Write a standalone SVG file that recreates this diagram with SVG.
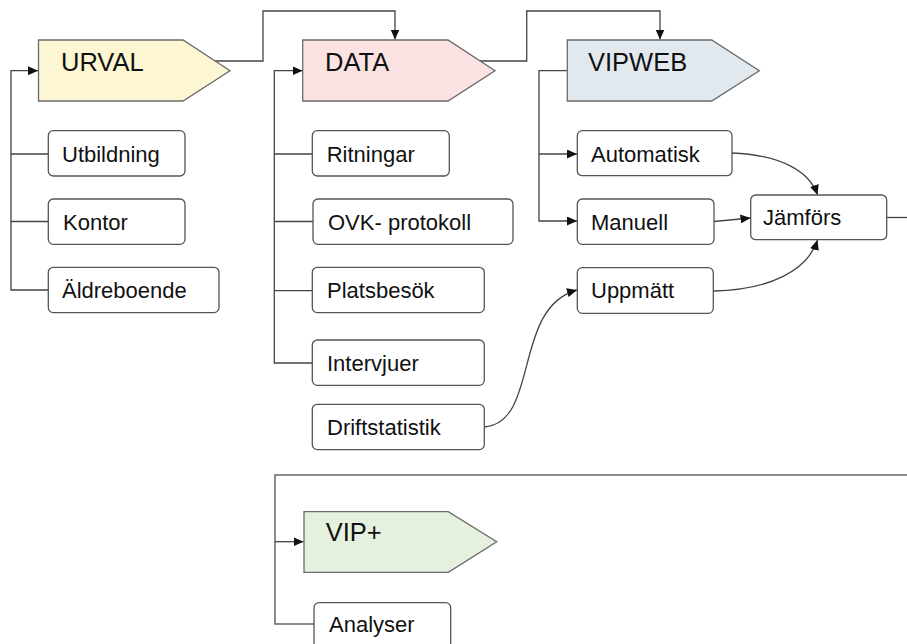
<svg xmlns="http://www.w3.org/2000/svg" width="907" height="644" viewBox="0 0 907 644">
<defs>
<marker id="ah" markerUnits="userSpaceOnUse" markerWidth="11" markerHeight="9" refX="10" refY="4.5" orient="auto">
<path d="M0,0 L10,4.5 L0,9 Z" fill="#111"/>
</marker>
<style>
.hdr{stroke:#6b6b6b;stroke-width:1.3}
.box{fill:#fff;stroke:#555;stroke-width:1.3}
.t{font-family:"Liberation Sans",Arial,sans-serif;font-size:22px;fill:#111}
.h{font-family:"Liberation Sans",Arial,sans-serif;font-size:25.5px;fill:#111}
.c{fill:none;stroke:#444;stroke-width:1.3}
.a{marker-end:url(#ah)}
</style>
</defs>
<rect width="907" height="644" fill="#fff"/>
<g id="connectors">
<path class="c a" d="M214,61 H263 V11 H395 V39.5"/>
<path class="c a" d="M478,61 H526.7 V11 H660 V39.5"/>
<path class="c a" d="M48,290 H11 V70.7 H38"/>
<path class="c" d="M11,154 H48 M11,221.5 H48"/>
<path class="c a" d="M312,363 H274.3 V70.7 H302.5"/>
<path class="c" d="M274.3,154 H312 M274.3,221.5 H313 M274.3,290.7 H312"/>
<path class="c a" d="M567.3,70.7 H539 V221 H577"/>
<path class="c a" d="M539,154 H577"/>
<path class="c a" d="M732,153 C782,155 810,172 817.5,195"/>
<path class="c a" d="M714,221.5 L750.5,218"/>
<path class="c a" d="M713.5,291 C770,290 808,270 817.5,240"/>
<path class="c a" d="M484.5,427 C540,422 512,308 577,290"/>
<path class="c" d="M886.7,217.5 H912"/>
<path class="c" style="stroke:#666;stroke-width:1.5" d="M912,475 H275 V624 H314"/>
<path class="c a" d="M275,541.7 H303.5"/>
</g>
<g id="urval">
<path class="hdr" fill="#FCF6D2" d="M38.5,40 H183 L230,70.7 L183,101 H38.5 Z"/>
<text class="h" x="61" y="71">URVAL</text>
</g>
<g id="data">
<path class="hdr" fill="#FCE3E3" d="M302.7,40 H448 L495,70.7 L448,101 H302.7 Z"/>
<text class="h" x="325" y="71">DATA</text>
</g>
<g id="vipweb">
<path class="hdr" fill="#E1E8EE" d="M567.3,40 H711.7 L759.3,70.7 L711.7,101 H567.3 Z"/>
<text class="h" x="588" y="71">VIPWEB</text>
</g>
<g id="vipplus">
<path class="hdr" fill="#E6F0DF" d="M304,511.7 H448.3 L496.7,541.7 L448.3,572.3 H304 Z"/>
<text class="h" x="325.7" y="541">VIP+</text>
</g>
<g id="utbildning"><rect class="box" x="48.3" y="130.7" width="136.7" height="45.3" rx="5"/><text class="t" x="62" y="161.5">Utbildning</text></g>
<g id="kontor"><rect class="box" x="48.3" y="199" width="136.7" height="45.3" rx="5"/><text class="t" x="63" y="229.5">Kontor</text></g>
<g id="aldreboende"><rect class="box" x="48.3" y="267.3" width="170.7" height="45.3" rx="5"/><text class="t" x="62" y="298">Äldreboende</text></g>
<g id="ritningar"><rect class="box" x="312.3" y="130.7" width="137" height="45.3" rx="5"/><text class="t" x="326.7" y="161.5">Ritningar</text></g>
<g id="ovk"><rect class="box" x="313" y="199" width="200" height="45.3" rx="5"/><text class="t" x="328" y="229.5">OVK- protokoll</text></g>
<g id="platsbesok"><rect class="box" x="312.3" y="267.3" width="172" height="45.3" rx="5"/><text class="t" x="327" y="298">Platsbesök</text></g>
<g id="intervjuer"><rect class="box" x="312.3" y="340" width="172" height="45.3" rx="5"/><text class="t" x="327" y="370.5">Intervjuer</text></g>
<g id="driftstatistik"><rect class="box" x="312.3" y="404.3" width="172" height="45.3" rx="5"/><text class="t" x="327" y="435">Driftstatistik</text></g>
<g id="automatisk"><rect class="box" x="577.3" y="130.7" width="154.7" height="45" rx="5"/><text class="t" x="591" y="161.5">Automatisk</text></g>
<g id="manuell"><rect class="box" x="577.3" y="199" width="136.7" height="45.3" rx="5"/><text class="t" x="591" y="229.5">Manuell</text></g>
<g id="uppmatt"><rect class="box" x="577.3" y="267.7" width="136" height="45.6" rx="5"/><text class="t" x="591" y="298">Uppmätt</text></g>
<g id="jamfors"><rect class="box" x="750.7" y="195" width="136" height="44.7" rx="5"/><text class="t" x="763" y="224.5">Jämförs</text></g>
<g id="analyser"><rect class="box" x="314" y="602.7" width="136.7" height="45.3" rx="5"/><text class="t" x="329" y="631.5">Analyser</text></g>
</svg>
